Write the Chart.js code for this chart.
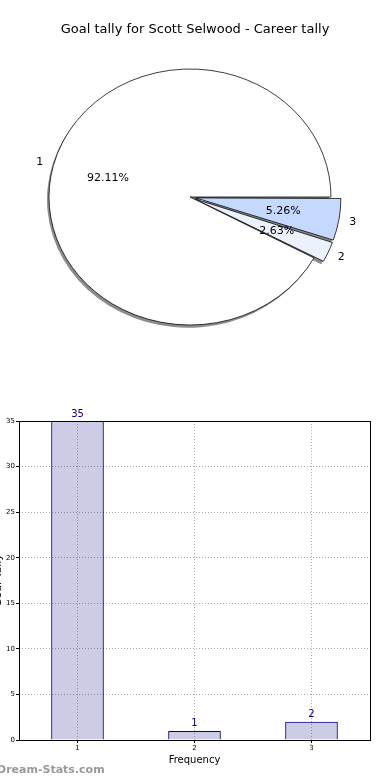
<!DOCTYPE html>
<html>
<head>
<meta charset="utf-8">
<script src="https://cdn.jsdelivr.net/npm/chart.js@4"></script>
<style>
  body { margin: 0; background: #fff; }
  canvas { display: block; }
</style>
</head>
<body>
<canvas id="pieChart" width="390" height="390"></canvas>
<canvas id="barChart" width="390" height="390"></canvas>
<script>
// data
const chartTitle = 'Goal tally for Scott Selwood - Career tally';
// pie slices listed clockwise from the right (matplotlib draws 1,2,3 counter-clockwise)
const pieLabels = ['3', '2', '1'];
const pieValues = [2, 1, 35];
const pieColors = ['#c5d8fd', '#ebf1fd', '#ffffff'];
const pieExplode = [10, 10, 0];   // px

const barLabels = ['1', '2', '3'];
const barValues = [35, 1, 2];
const yTicks = [0, 5, 10, 15, 20, 25, 30, 35];
const xTitle = 'Frequency';
const yTitle = 'Goal Tally';

const font = '"DejaVu Sans", sans-serif';
const squash = 128 / 141;   // pie is drawn as an ellipse

// Chart.js moves an arc by offset/4 * (1 + fix), turn the px explode into that option
const pieTotal = pieValues.reduce((a, b) => a + b, 0);
const pieOffsets = pieValues.map((v, i) => {
  const c = v / pieTotal * Math.PI * 2;
  const fix = 1 - Math.sin(Math.min(Math.PI, c));
  return pieExplode[i] * 4 / (1 + fix);
});

function slicePath(ctx, el, i, dx, dy) {
  const mid = (el.startAngle + el.endAngle) / 2;
  const cx = el.x + pieExplode[i] * Math.cos(mid) + dx;
  const cy = el.y + pieExplode[i] * Math.sin(mid) + dy;
  ctx.beginPath();
  ctx.moveTo(cx, cy);
  ctx.arc(cx, cy, el.outerRadius, el.startAngle, el.endAngle);
  ctx.closePath();
}

// Pie: squash + shadow + labels
const piePlugin = {
  id: 'piePlugin',
  beforeDatasetsDraw(chart) {
    const ctx = chart.ctx;
    const meta = chart.getDatasetMeta(0);
    const arc = meta.data[0];
    ctx.save();
    ctx.translate(arc.x, arc.y);
    ctx.scale(1, squash);
    ctx.translate(-arc.x, -arc.y);
    ctx.fillStyle = 'rgba(0,0,0,0.45)';
    meta.data.forEach((el, i) => {
      slicePath(ctx, el, i, -2, 3);
      ctx.fill();
    });
  },
  afterDatasetsDraw(chart) {
    const ctx = chart.ctx;
    ctx.restore();
    const meta = chart.getDatasetMeta(0);
    ctx.save();
    ctx.fillStyle = '#000';
    ctx.font = '11px ' + font;
    ctx.textAlign = 'center';
    ctx.textBaseline = 'middle';
    meta.data.forEach((el, i) => {
      const mid = (el.startAngle + el.endAngle) / 2;
      const r = el.outerRadius;
      const off = pieExplode[i];
      const lx = el.x + (off + 1.1 * r) * Math.cos(mid);
      const ly = el.y + (off + 1.1 * r) * Math.sin(mid) * squash;
      ctx.fillText(pieLabels[i], lx, ly);
      const px = el.x + (off + 0.6 * r) * Math.cos(mid);
      const py = el.y + (off + 0.6 * r) * Math.sin(mid) * squash;
      ctx.fillText((pieValues[i] / pieTotal * 100).toFixed(2) + '%', px, py);
    });
    ctx.font = '13px ' + font;
    ctx.fillText(chartTitle, 195, 30);
    ctx.restore();
  }
};

new Chart(document.getElementById('pieChart').getContext('2d'), {
  type: 'pie',
  data: {
    labels: pieLabels,
    datasets: [{
      data: pieValues,
      backgroundColor: pieColors,
      borderColor: '#000',
      borderWidth: 0.8,
      offset: pieOffsets,
      radius: 141
    }]
  },
  options: {
    responsive: false,
    animation: false,
    rotation: 90,
    layout: { padding: { left: 0, right: 10, top: 4, bottom: 0 } },
    plugins: {
      legend: { display: false },
      tooltip: { enabled: false }
    }
  },
  plugins: [piePlugin]
});

// Bar: frame, value labels, axis titles, watermark
const barPlugin = {
  id: 'barPlugin',
  afterDraw(chart) {
    const ctx = chart.ctx;
    const a = chart.chartArea;
    ctx.save();
    ctx.strokeStyle = '#000';
    ctx.lineWidth = 1;
    ctx.strokeRect(a.left + 0.5, a.top + 0.5, a.right - a.left, a.bottom - a.top);

    ctx.fillStyle = '#000080';
    ctx.font = '10px ' + font;
    ctx.textAlign = 'center';
    ctx.textBaseline = 'bottom';
    chart.getDatasetMeta(0).data.forEach((bar, i) => {
      ctx.fillText(barValues[i], bar.x, bar.y - 2);
    });

    ctx.fillStyle = '#000';
    ctx.textBaseline = 'middle';
    ctx.fillText(xTitle, (a.left + a.right) / 2, 370);

    ctx.save();
    ctx.translate(-2, (a.top + a.bottom) / 2);
    ctx.rotate(-Math.PI / 2);
    ctx.font = '11px ' + font;
    ctx.fillText(yTitle, 0, 0);
    ctx.restore();

    ctx.fillStyle = '#999';
    ctx.font = 'bold 11px ' + font;
    ctx.textAlign = 'left';
    ctx.fillText('Dream-Stats.com', -3, 380);
    ctx.restore();
  }
};

new Chart(document.getElementById('barChart').getContext('2d'), {
  type: 'bar',
  data: {
    labels: barLabels,
    datasets: [{
      data: barValues,
      backgroundColor: 'rgba(0,0,128,0.2)',
      borderColor: '#000080',
      borderWidth: 1,
      barPercentage: 0.45,
      categoryPercentage: 1
    }]
  },
  options: {
    responsive: false,
    animation: false,
    layout: { padding: { left: 0, right: 20, top: 31, bottom: 0 } },
    plugins: {
      legend: { display: false },
      tooltip: { enabled: false }
    },
    scales: {
      x: {
        offset: true,
        afterFit(scale) { scale.height = 40; },
        grid: { offset: false, color: '#aaa', lineWidth: 1, tickLength: 3, tickColor: '#000' },
        border: { display: false, dash: [1, 2] },
        ticks: { color: '#000', font: { family: font, size: 7 }, padding: 1 }
      },
      y: {
        min: 0,
        max: 35,
        afterFit(scale) { scale.width = 19; },
        afterBuildTicks(scale) { scale.ticks = yTicks.map(v => ({ value: v })); },
        grid: { color: '#aaa', lineWidth: 1, tickLength: 3, tickColor: '#000' },
        border: { display: false, dash: [1, 2] },
        ticks: { color: '#000', font: { family: font, size: 7 }, padding: 1 }
      }
    }
  },
  plugins: [barPlugin]
});
</script>
</body>
</html>
